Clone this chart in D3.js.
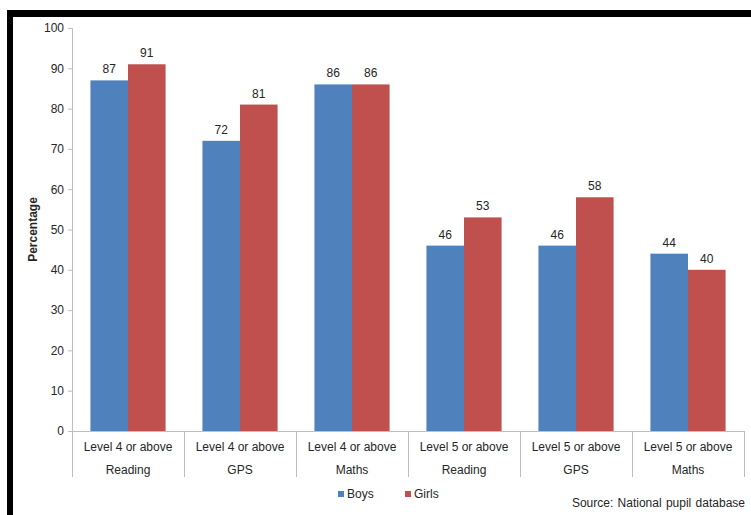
<!DOCTYPE html>
<html><head><meta charset="utf-8">
<script src="https://cdn.jsdelivr.net/npm/d3@7"></script>
<style>
html,body{margin:0;padding:0;background:#fff;}
svg{display:block;font-family:"Liberation Sans",Arial,sans-serif;}
</style></head>
<body>
<svg id="chart" width="751" height="515"></svg>
<script>
const categoriesLine1 = ["Level 4 or above","Level 4 or above","Level 4 or above","Level 5 or above","Level 5 or above","Level 5 or above"];
const categoriesLine2 = ["Reading","GPS","Maths","Reading","GPS","Maths"];
const seriesNames = ["Boys","Girls"];
const boys = [87, 72, 86, 46, 46, 44];
const girls = [91, 81, 86, 53, 58, 40];
const yTicks = [0,10,20,30,40,50,60,70,80,90,100];
const colors = ["#4F81BD","#C0504D"];

(function(){
const svg = d3.select("#chart");
// black frame
svg.append("rect").attr("x",7).attr("y",10).attr("width",744).attr("height",7).attr("fill","#000");
svg.append("rect").attr("x",7).attr("y",10).attr("width",6).attr("height",505).attr("fill","#000");

const pLeft = 72, pRight = 744, pTop = 28, pBottom = 431;
const idx = d3.range(categoriesLine1.length);
const x = d3.scaleBand().domain(idx).range([pLeft,pRight]).paddingInner(0).paddingOuter(0);
const y = d3.scaleLinear().domain([0,100]).range([pBottom,pTop]);
const inner = d3.scaleBand().domain([0,1]).range([0, x.bandwidth()]).paddingOuter(0.49).paddingInner(0);

const textColor = "#262626";
const axisColor = "#BFBFBF";

// y axis
const yAxis = svg.append("g").attr("transform",`translate(${pLeft},0)`)
  .call(d3.axisLeft(y).tickValues(yTicks).tickSize(4).tickPadding(4));
yAxis.select(".domain").attr("stroke",axisColor);
yAxis.selectAll(".tick line").attr("stroke",axisColor);
yAxis.selectAll(".tick text").attr("fill",textColor).style("font-size","12px").style("font-family","'Liberation Sans',Arial,sans-serif");

// y title
svg.append("text").attr("transform",`translate(37,${(pTop+pBottom)/2}) rotate(-90)`)
  .attr("text-anchor","middle").attr("fill",textColor)
  .style("font-size","12px").style("font-weight","bold").text("Percentage");

// bars
const data = idx.map(i => [boys[i], girls[i]]);
const groups = svg.append("g").selectAll("g").data(data).join("g")
  .attr("transform",(d,i)=>`translate(${x(i)},0)`);
groups.selectAll("rect").data(d=>d).join("rect")
  .attr("x",(d,j)=>inner(j)).attr("width",inner.bandwidth())
  .attr("y",d=>y(d)).attr("height",d=>pBottom-y(d))
  .attr("fill",(d,j)=>colors[j]);
groups.selectAll("text").data(d=>d).join("text")
  .attr("x",(d,j)=>inner(j)+inner.bandwidth()/2).attr("y",d=>y(d)-7)
  .attr("text-anchor","middle").attr("fill",textColor).style("font-size","12px")
  .text(d=>d);

// x axis
svg.append("line").attr("x1",pLeft).attr("x2",pRight).attr("y1",pBottom+0.5).attr("y2",pBottom+0.5).attr("stroke",axisColor);
const bounds = idx.map(i=>x(i)).concat([pRight]);
svg.append("g").selectAll("line").data(bounds).join("line")
  .attr("x1",d=>Math.round(d)+0.5).attr("x2",d=>Math.round(d)+0.5)
  .attr("y1",pBottom).attr("y2",477).attr("stroke",axisColor);
const xl = svg.append("g").selectAll("g").data(idx).join("g");
xl.append("text").attr("x",i=>x(i)+x.bandwidth()/2).attr("y",451)
  .attr("text-anchor","middle").attr("fill",textColor).style("font-size","12px")
  .text(i=>categoriesLine1[i]);
xl.append("text").attr("x",i=>x(i)+x.bandwidth()/2).attr("y",474)
  .attr("text-anchor","middle").attr("fill",textColor).style("font-size","12px")
  .text(i=>categoriesLine2[i]);

// legend
const legendX = [338, 405];
const lg = svg.append("g").selectAll("g").data(seriesNames).join("g")
  .attr("transform",(d,i)=>`translate(${legendX[i]},494)`);
lg.append("rect").attr("x",0).attr("y",-3).attr("width",6).attr("height",6).attr("fill",(d,i)=>colors[i]);
lg.append("text").attr("x",9).attr("y",4).attr("fill",textColor).style("font-size","12px").text(d=>d);

// source
svg.append("text").attr("x",745).attr("y",507).attr("text-anchor","end").attr("fill",textColor)
  .style("font-size","12px").style("word-spacing","1px").text("Source: National pupil database");
})();
</script>
</body></html>
